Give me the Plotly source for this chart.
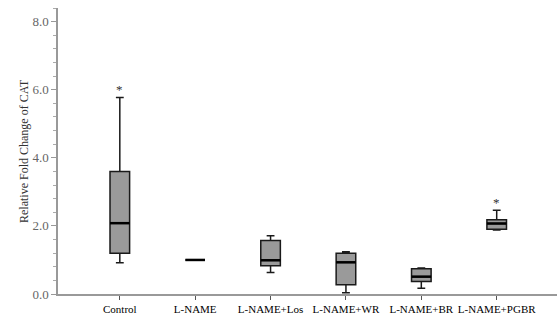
import plotly.graph_objects as go

categories = ["Control", "L-NAME", "L-NAME+Los", "L-NAME+WR", "L-NAME+BR", "L-NAME+PGBR"]
lower_whisker = [0.92, 1.0, 0.63, 0.04, 0.17, 1.88]
q1 = [1.2, 1.0, 0.83, 0.27, 0.37, 1.9]
median = [2.08, 1.0, 0.99, 0.93, 0.51, 2.07]
q3 = [3.6, 1.0, 1.57, 1.2, 0.74, 2.18]
upper_whisker = [5.77, 1.0, 1.71, 1.24, 0.76, 2.46]
star_categories = ["Control", "L-NAME+PGBR"]
star_values = [6.0, 2.69]

SERIF = "Liberation Serif, Times New Roman, serif"
BOX_WIDTH = 0.26

fig = go.Figure()
fig.add_trace(go.Box(
    x=categories,
    q1=q1, median=median, q3=q3,
    lowerfence=lower_whisker, upperfence=upper_whisker,
    fillcolor="#9a9a9a",
    line=dict(color="#1a1a1a", width=1.5),
    width=BOX_WIDTH,
    whiskerwidth=0.4,
    boxpoints=False,
    showlegend=False,
    hoverinfo="skip",
))

shapes = []
for i, m in enumerate(median):
    shapes.append(dict(
        type="line", xref="x", yref="y",
        x0=i - BOX_WIDTH / 2, x1=i + BOX_WIDTH / 2, y0=m, y1=m,
        line=dict(color="#000000", width=2.5),
    ))

annotations = [dict(
    text="Relative Fold Change of CAT", textangle=-90,
    xref="paper", yref="paper", x=(15 - 58) / 499, y=0.5,
    showarrow=False, font=dict(family=SERIF, size=12, color="#333333"),
)]
for c, v in zip(star_categories, star_values):
    annotations.append(dict(
        text="*", x=c, y=v, xref="x", yref="y", showarrow=False,
        font=dict(family=SERIF, size=13, color="#333333"),
    ))

fig.update_layout(
    width=557, height=315,
    margin=dict(l=58, r=0, t=8, b=21),
    paper_bgcolor="white", plot_bgcolor="white",
    font=dict(family=SERIF, color="#333333"),
    shapes=shapes,
    annotations=annotations,
    xaxis=dict(
        type="category", categoryorder="array", categoryarray=categories,
        range=[-0.82, 5.8],
        showline=True, linecolor="#999999", linewidth=1.5,
        ticks="outside", ticklen=4, tickcolor="#555555",
        showgrid=False, zeroline=False,
        tickfont=dict(family=SERIF, size=11, color="#000000"),
        fixedrange=True,
    ),
    yaxis=dict(
        range=[0, 8.4], dtick=2, tickformat=".1f",
        showline=True, linecolor="#999999", linewidth=1.5,
        ticks="outside", ticklen=5, tickcolor="#999999",
        minor=dict(dtick=0.4, ticks="outside", ticklen=3, tickcolor="#aaaaaa"),
        showgrid=False, zeroline=False,
        tickfont=dict(family=SERIF, size=13, color="#666666"),
        fixedrange=True,
    ),
)

fig.write_html("out.html")
